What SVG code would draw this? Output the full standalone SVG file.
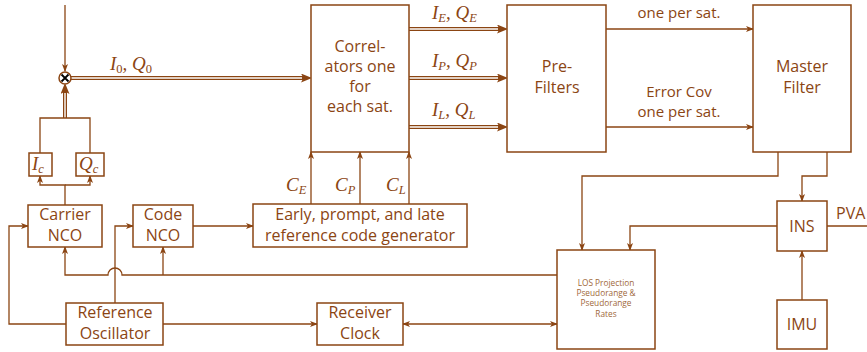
<svg xmlns="http://www.w3.org/2000/svg" width="867" height="352" viewBox="0 0 867 352">
<defs>
<marker id="ah" markerUnits="userSpaceOnUse" markerWidth="8" markerHeight="6" viewBox="0 0 8 6" refX="7" refY="3" orient="auto-start-reverse"><path d="M0,0 L8,3 L0,6 L2,3 z" fill="#8b4513"/></marker>
<marker id="dh" markerUnits="userSpaceOnUse" markerWidth="11" markerHeight="9" viewBox="0 0 11 9" refX="3" refY="4.5" orient="auto"><path d="M0,0 L11,4.5 L0,9 L2.5,4.5 z" fill="#8b4513"/></marker>
</defs>
<style>
.box{fill:#fff;stroke:#8b4513;stroke-width:1.5}
.ln{fill:none;stroke:#8b4513;stroke-width:1.3}
.dbo{fill:none;stroke:#8b4513;stroke-width:4}
.dbi{fill:none;stroke:#fff;stroke-width:1.4}
.t{font-family:"Open Sans","DejaVu Sans",sans-serif;font-size:16px;fill:#8b4513;text-anchor:middle}
.s{font-size:15px}
.m{font-family:"Liberation Serif","DejaVu Serif",serif;font-style:italic;font-size:19px;fill:#8b4513}
.sub{font-size:12.5px}
.tiny{font-family:"Open Sans","DejaVu Sans",sans-serif;font-size:8.3px;fill:#a0683a;text-anchor:middle}
</style>
<rect width="867" height="352" fill="#fff"/>

<g id="connectors">
<path class="ln" d="M65,5 V71" marker-end="url(#ah)"/>
<path class="dbo" d="M71,78 H304" marker-end="url(#dh)"/>
<path class="dbi" d="M71,78 H302"/>
<path class="dbo" d="M65,118 V91" marker-end="url(#dh)"/>
<path class="dbi" d="M65,118 V93"/>
<path class="ln" d="M40,153 V118 H90 V153"/>
<path class="ln" d="M65,205 V185 H40 V176" marker-end="url(#ah)"/>
<path class="ln" d="M65,185 H90 V176" marker-end="url(#ah)"/>
<path class="dbo" d="M409,29 H500" marker-end="url(#dh)"/>
<path class="dbi" d="M409,29 H498"/>
<path class="dbo" d="M409,78 H500" marker-end="url(#dh)"/>
<path class="dbi" d="M409,78 H498"/>
<path class="dbo" d="M409,127 H500" marker-end="url(#dh)"/>
<path class="dbi" d="M409,127 H498"/>
<path class="ln" d="M606,29 H753" marker-end="url(#ah)"/>
<path class="ln" d="M606,127 H753" marker-end="url(#ah)"/>
<path class="ln" d="M311,204 V152" marker-end="url(#ah)"/>
<path class="ln" d="M360,204 V152" marker-end="url(#ah)"/>
<path class="ln" d="M409,204 V152" marker-end="url(#ah)"/>
<path class="ln" d="M193,226 H253" marker-end="url(#ah)"/>
<path class="ln" d="M557,275 H122 A7,7 0 0 0 108,275 H65 V247" marker-end="url(#ah)"/>
<path class="ln" d="M163,275 V247" marker-end="url(#ah)"/>
<path class="ln" d="M115,303 V226 H133" marker-end="url(#ah)"/>
<path class="ln" d="M66,324 H9 V226 H28" marker-end="url(#ah)"/>
<path class="ln" d="M163,324 H317" marker-end="url(#ah)"/>
<path class="ln" d="M403,324 H557" marker-start="url(#ah)" marker-end="url(#ah)"/>
<path class="ln" d="M778,152 V176 H582 V250" marker-end="url(#ah)"/>
<path class="ln" d="M827,152 V176 H802 V201" marker-end="url(#ah)"/>
<path class="ln" d="M777,226 H630 V250" marker-end="url(#ah)"/>
<path class="ln" d="M802,300 V251" marker-end="url(#ah)"/>
<path class="ln" d="M827,226 H867"/>
</g>

<g id="labels">
<text class="m" x="110" y="70">I<tspan class="sub" font-style="normal" dy="3">0</tspan><tspan dy="-3">, Q</tspan><tspan class="sub" font-style="normal" dy="3">0</tspan></text>
<text class="m" x="432" y="19">I<tspan class="sub" dy="3">E</tspan><tspan dy="-3">, Q</tspan><tspan class="sub" dy="3">E</tspan></text>
<text class="m" x="432" y="67">I<tspan class="sub" dy="3">P</tspan><tspan dy="-3">, Q</tspan><tspan class="sub" dy="3">P</tspan></text>
<text class="m" x="432" y="116">I<tspan class="sub" dy="3">L</tspan><tspan dy="-3">, Q</tspan><tspan class="sub" dy="3">L</tspan></text>
<text class="m" x="286" y="191">C<tspan class="sub" dy="3">E</tspan></text>
<text class="m" x="335" y="191">C<tspan class="sub" dy="3">P</tspan></text>
<text class="m" x="386" y="191">C<tspan class="sub" dy="3">L</tspan></text>
<text class="t s" x="679" y="18">one per sat.</text>
<text class="t s" x="679" y="97">Error Cov</text>
<text class="t s" x="679" y="117">one per sat.</text>
<text class="t" x="836" y="219" style="text-anchor:start">PVA</text>
</g>

<g id="mixer">
<circle cx="65" cy="78" r="6" fill="#fff" stroke="#8b4513" stroke-width="1.5"/>
<path d="M61.5,74.5 L68.5,81.5 M68.5,74.5 L61.5,81.5" stroke="#000" stroke-width="1.8"/>
</g>

<g id="ic">
<rect class="box" x="29" y="153" width="23" height="23"/>
<text class="m" x="32" y="170">I<tspan class="sub" dy="3">c</tspan></text>
</g>
<g id="qc">
<rect class="box" x="76" y="153" width="28" height="23"/>
<text class="m" x="79" y="170">Q<tspan class="sub" dy="3">c</tspan></text>
</g>

<g id="correlators">
<rect class="box" x="311" y="5" width="98" height="147"/>
<text class="t" x="360" y="52">Correl-</text>
<text class="t" x="360" y="72">ators one</text>
<text class="t" x="360" y="92">for</text>
<text class="t" x="360" y="112">each sat.</text>
</g>

<g id="prefilters">
<rect class="box" x="507" y="5" width="99" height="147"/>
<text class="t" x="557" y="72">Pre-</text>
<text class="t" x="557" y="93">Filters</text>
</g>

<g id="masterfilter">
<rect class="box" x="753" y="5" width="98" height="147"/>
<text class="t" x="802" y="72">Master</text>
<text class="t" x="802" y="93">Filter</text>
</g>

<g id="carrierNCO">
<rect class="box" x="28" y="205" width="74" height="42"/>
<text class="t" x="65" y="220">Carrier</text>
<text class="t" x="65" y="241">NCO</text>
</g>

<g id="codeNCO">
<rect class="box" x="133" y="205" width="60" height="42"/>
<text class="t" x="163" y="220">Code</text>
<text class="t" x="163" y="241">NCO</text>
</g>

<g id="codegen">
<rect class="box" x="253" y="204" width="214" height="43"/>
<text class="t" x="360" y="220">Early, prompt, and late</text>
<text class="t" x="360" y="241">reference code generator</text>
</g>

<g id="refosc">
<rect class="box" x="66" y="303" width="97" height="42"/>
<text class="t" x="115" y="318">Reference</text>
<text class="t" x="115" y="339">Oscillator</text>
</g>

<g id="rxclock">
<rect class="box" x="317" y="303" width="86" height="42"/>
<text class="t" x="360" y="318">Receiver</text>
<text class="t" x="360" y="339">Clock</text>
</g>

<g id="los">
<rect class="box" x="557" y="250" width="98" height="99"/>
<text class="tiny" x="606" y="286">LOS Projection</text>
<text class="tiny" x="606" y="296">Pseudorange &amp;</text>
<text class="tiny" x="606" y="306">Pseudorange</text>
<text class="tiny" x="606" y="317">Rates</text>
</g>

<g id="ins">
<rect class="box" x="777" y="201" width="50" height="50"/>
<text class="t" x="802" y="232">INS</text>
</g>

<g id="imu">
<rect class="box" x="777" y="300" width="50" height="49"/>
<text class="t" x="802" y="330">IMU</text>
</g>
</svg>
